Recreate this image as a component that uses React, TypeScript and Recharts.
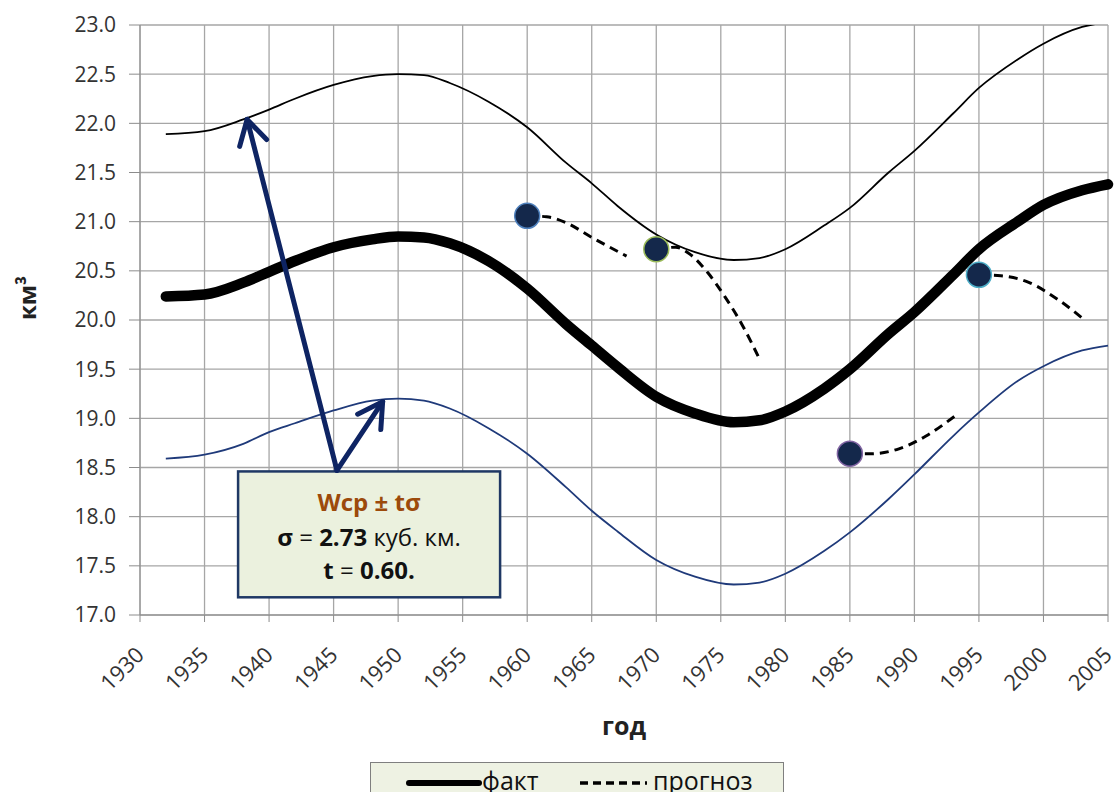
import React from "react";
import {
  ComposedChart,
  Line,
  XAxis,
  YAxis,
  CartesianGrid,
  ReferenceLine,
  ReferenceArea,
  ReferenceDot,
  Label,
} from "recharts";

// years shared by the three smoothed curves
const years = [
  1932, 1935, 1938, 1940, 1942, 1945, 1948, 1950, 1952, 1954, 1957, 1960, 1963, 1965, 1967,
  1970, 1973, 1976, 1978, 1980, 1983, 1985, 1988, 1990, 1993, 1995, 1998, 2000, 2003, 2005,
];
const factValues = [
  20.24, 20.26, 20.38, 20.49, 20.6, 20.74, 20.82, 20.85, 20.84, 20.78, 20.6, 20.32, 19.96, 19.74,
  19.52, 19.22, 19.05, 18.96, 18.98, 19.07, 19.3, 19.5, 19.86, 20.08, 20.46, 20.72, 21.0, 21.17,
  21.32, 21.38,
];
const upperValues = [
  21.89, 21.92, 22.04, 22.14, 22.25, 22.39, 22.48, 22.5, 22.49, 22.41, 22.22, 21.96, 21.6, 21.39,
  21.16, 20.87, 20.69, 20.61, 20.63, 20.72, 20.96, 21.14, 21.5, 21.72, 22.1, 22.36, 22.65, 22.81,
  22.98, 23.03,
];
const lowerValues = [
  18.59, 18.63, 18.74, 18.86, 18.95, 19.08, 19.18, 19.2, 19.18, 19.1, 18.9, 18.64, 18.3, 18.06,
  17.85, 17.56, 17.39, 17.31, 17.33, 17.42, 17.65, 17.84, 18.18, 18.43, 18.82, 19.06, 19.38,
  19.53, 19.69, 19.74,
];

// forecast pieces (dashed)
const fc1Years = [1960, 1961.5, 1963, 1965, 1967.7];
const fc1Values = [21.06, 21.05, 20.99, 20.84, 20.65];
const fc2Years = [1970, 1971.5, 1972.6, 1974, 1975.3, 1976.7, 1977.9];
const fc2Values = [20.72, 20.74, 20.67, 20.48, 20.24, 19.94, 19.63];
const fc3Years = [1985, 1986.6, 1988.8, 1990.9, 1993.1];
const fc3Values = [18.64, 18.64, 18.69, 18.82, 19.02];
const fc4Years = [1995, 1996.7, 1998.9, 2001.1, 2003.1];
const fc4Values = [20.46, 20.45, 20.38, 20.21, 20.01];

const dotYears = [1960, 1970, 1985, 1995];
const dotValues = [21.06, 20.72, 18.64, 20.46];
const dotEdges = ["#4F81BD", "#9BBB59", "#8064A2", "#4BACC6"];

const xTicks = [1930, 1935, 1940, 1945, 1950, 1955, 1960, 1965, 1970, 1975, 1980, 1985, 1990, 1995, 2000, 2005];
const yTicks = [17, 17.5, 18, 18.5, 19, 19.5, 20, 20.5, 21, 21.5, 22, 22.5, 23];

// annotation anchors in chart units
const arrowStart = { x: 1945.26, y: 18.47 };
const arrowTips = [
  { x: 1938.3, y: 22.04 },
  { x: 1948.8, y: 19.17 },
];
const noteBox = { x1: 1937.6, x2: 1957.9, y1: 17.18, y2: 18.46 };

const pair = (xs: number[], vs: number[]) => xs.map((year, i) => ({ year, v: vs[i] }));
const factData = pair(years, factValues);
const upperData = pair(years, upperValues);
const lowerData = pair(years, lowerValues);
const forecasts = [
  pair(fc1Years, fc1Values),
  pair(fc2Years, fc2Values),
  pair(fc3Years, fc3Values),
  pair(fc4Years, fc4Values),
];

const FONT = "'Open Sans', sans-serif";
const NAVY = "#0E2463";

function YearTick({ x, y, payload }: any) {
  return (
    <g transform={`translate(${x},${y + 23})`}>
      <text
        transform="rotate(-45)"
        textAnchor="end"
        dy="0.35em"
        fontSize={22}
        fill="#333"
        fontFamily={FONT}
      >
        {payload.value}
      </text>
    </g>
  );
}

function arrowShape(p: any) {
  const { x1, y1, x2, y2 } = p;
  const ang = Math.atan2(y2 - y1, x2 - x1);
  const len = 28;
  const spread = 0.52;
  const ax = x2 - len * Math.cos(ang - spread);
  const ay = y2 - len * Math.sin(ang - spread);
  const bx = x2 - len * Math.cos(ang + spread);
  const by = y2 - len * Math.sin(ang + spread);
  return (
    <g>
      <line x1={x1} y1={y1} x2={x2} y2={y2} stroke={NAVY} strokeWidth={5} strokeLinecap="round" />
      <polyline
        points={`${ax},${ay} ${x2},${y2} ${bx},${by}`}
        fill="none"
        stroke={NAVY}
        strokeWidth={5}
        strokeLinecap="round"
        strokeLinejoin="round"
      />
    </g>
  );
}

function noteShape(p: any) {
  const { x, y, width, height } = p;
  const cx = x + width / 2;
  return (
    <g fontFamily={FONT} fontSize={24} textAnchor="middle">
      <rect x={x} y={y} width={width} height={height} fill="#EBF1DE" stroke="#1F3864" strokeWidth={2.5} />
      <text x={cx} y={y + 40} fill="#9C4A0B" fontWeight={700}>
        Wcp ± tσ
      </text>
      <text x={cx} y={y + 75} fill="#111">
        <tspan fontWeight={700}>σ</tspan> = <tspan fontWeight={700}>2.73</tspan> куб. км.
      </text>
      <text x={cx} y={y + 108} fill="#111">
        <tspan fontWeight={700}>t</tspan> = <tspan fontWeight={700}>0.60.</tspan>
      </text>
    </g>
  );
}

function Legend() {
  return (
    <div
      style={{
        position: "absolute",
        left: 370,
        top: 762,
        width: 414,
        height: 40,
        background: "#EEF2E3",
        border: "1.5px solid #7F7F7F",
        boxSizing: "border-box",
      }}
    >
      <svg width={414} height={40} style={{ position: "absolute", left: 0, top: 0 }}>
        <line x1={38} y1={20} x2={108} y2={20} stroke="#000" strokeWidth={6} strokeLinecap="round" />
        <text x={111} y={27} fontFamily={FONT} fontSize={25} fill="#111">
          факт
        </text>
        <line x1={209} y1={20} x2={276} y2={20} stroke="#000" strokeWidth={3.5} strokeDasharray="8 5" />
        <text x={282} y={27} fontFamily={FONT} fontSize={25} fill="#111">
          прогноз
        </text>
      </svg>
    </div>
  );
}

export default function App() {
  return (
    <div style={{ position: "absolute", left: 0, top: 0, width: 1115, height: 792, overflow: "hidden", background: "#fff" }}>
      <ComposedChart width={1115} height={792} margin={{ top: 25, right: 7, bottom: 0, left: 0 }}>
        <CartesianGrid stroke="#A6A6A6" strokeWidth={1.3} />
        <XAxis
          type="number"
          dataKey="year"
          domain={[1930, 2005]}
          ticks={xTicks}
          interval={0}
          height={177}
          tickSize={7}
          tickMargin={6}
          stroke="#8C8C8C"
          tick={<YearTick />}
        >
          <Label
            content={({ viewBox }: any) => (
              <text
                x={viewBox.x + viewBox.width / 2}
                y={viewBox.y + 120}
                textAnchor="middle"
                fontFamily={FONT}
                fontWeight={700}
                fontSize={25}
                fill="#222"
              >
                год
              </text>
            )}
          />
        </XAxis>
        <YAxis
          type="number"
          domain={[17, 23]}
          ticks={yTicks}
          allowDataOverflow
          width={140}
          tickSize={11}
          tickMargin={13}
          stroke="#8C8C8C"
          tickFormatter={(v: number) => v.toFixed(1)}
          tick={{ fontSize: 21, fill: "#333", fontFamily: FONT }}
        >
          <Label
            content={() => {
              const lx = 36;
              const ly = 298;
              return (
                <text
                  x={lx}
                  y={ly}
                  transform={`rotate(-90 ${lx} ${ly})`}
                  textAnchor="middle"
                  fontFamily={FONT}
                  fontWeight={700}
                  fontSize={24}
                  fill="#222"
                >
                  км³
                </text>
              );
            }}
          />
        </YAxis>

        <Line data={upperData} dataKey="v" type="monotone" stroke="#000" strokeWidth={1.8} dot={false} isAnimationActive={false} />
        <Line data={lowerData} dataKey="v" type="monotone" stroke="#1F3A7A" strokeWidth={1.8} dot={false} isAnimationActive={false} />
        <Line
          data={factData}
          dataKey="v"
          type="monotone"
          stroke="#000"
          strokeWidth={10.5}
          strokeLinecap="round"
          dot={false}
          isAnimationActive={false}
        />
        {forecasts.map((d, i) => (
          <Line
            key={i}
            data={d}
            dataKey="v"
            type="monotone"
            stroke="#000"
            strokeWidth={3}
            strokeDasharray="9 6"
            dot={false}
            isAnimationActive={false}
          />
        ))}
        {dotYears.map((yr, i) => (
          <ReferenceDot
            key={yr}
            x={yr}
            y={dotValues[i]}
            r={12.5}
            fill="#14284B"
            stroke={dotEdges[i]}
            strokeWidth={1.5}
          />
        ))}
        <ReferenceArea
          x1={noteBox.x1}
          x2={noteBox.x2}
          y1={noteBox.y1}
          y2={noteBox.y2}
          ifOverflow="visible"
          shape={noteShape}
        />
        {arrowTips.map((tip, i) => (
          <ReferenceLine key={i} segment={[arrowStart, tip]} ifOverflow="visible" shape={arrowShape} />
        ))}
      </ComposedChart>
      <Legend />
    </div>
  );
}
